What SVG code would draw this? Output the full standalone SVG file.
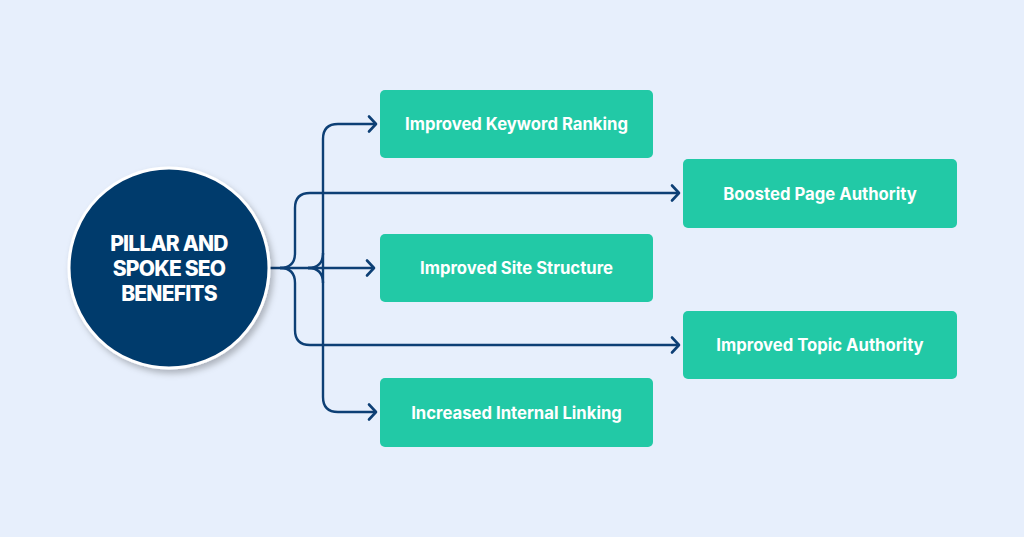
<svg xmlns="http://www.w3.org/2000/svg" width="1024" height="537" viewBox="0 0 1024 537">
  <defs>
    <marker id="arr" markerUnits="userSpaceOnUse" markerWidth="20" markerHeight="20" refX="10" refY="10" orient="auto">
      <path d="M3,2.5 L10,10 L3,17.5" fill="none" stroke="#0d3f75" stroke-width="2.6" stroke-linecap="round" stroke-linejoin="round"/>
    </marker>
    <filter id="sh" x="-20%" y="-20%" width="140%" height="140%">
      <feDropShadow dx="3" dy="4" stdDeviation="3" flood-color="#000" flood-opacity="0.25"/>
    </filter>
  </defs>
  <style>
    .box { fill: #22c9a6; }
    .lbl { fill: #ffffff; font-family: Inter, "Liberation Sans", sans-serif; font-weight: 700; font-size: 16.7px; text-anchor: middle; dominant-baseline: central; }
    .ctr { fill: #ffffff; font-family: Inter, "Liberation Sans", sans-serif; font-weight: 800; font-size: 21px; text-anchor: middle; letter-spacing: -0.8px; }
    .con { fill: none; stroke: #0d3f75; stroke-width: 2.4; }
  </style>
  <rect width="1024" height="537" fill="#e7effc"/>

  <g id="connectors">
    <path class="con" d="M270,268 L374,268" marker-end="url(#arr)"/>
    <path class="con" d="M280,268 Q295,268 295,253 L295,208 Q295,193 310,193 L679,193" marker-end="url(#arr)"/>
    <path class="con" d="M280,268 Q295,268 295,283 L295,330 Q295,345 310,345 L679,345" marker-end="url(#arr)"/>
    <path class="con" d="M308,268 Q323,268 323,253"/>
    <path class="con" d="M308,268 Q323,268 323,283"/>
    <path class="con" d="M323,268 L323,139 Q323,124 338,124 L376,124" marker-end="url(#arr)"/>
    <path class="con" d="M323,268 L323,397 Q323,412 338,412 L376,412" marker-end="url(#arr)"/>
  </g>

  <g id="center">
    <circle cx="169" cy="268" r="100" fill="#063a6c" stroke="#ffffff" stroke-width="3" filter="url(#sh)"/>
    <text class="ctr" x="169" y="251">PILLAR AND</text>
    <text class="ctr" x="169" y="276">SPOKE SEO</text>
    <text class="ctr" x="169" y="301">BENEFITS</text>
  </g>

  <g id="n1">
    <rect class="box" x="380" y="90" width="273" height="68" rx="5"/>
    <text class="lbl" x="516.5" y="124">Improved Keyword Ranking</text>
  </g>
  <g id="n2">
    <rect class="box" x="683" y="159" width="274" height="69" rx="5"/>
    <text class="lbl" x="820" y="193.5">Boosted Page Authority</text>
  </g>
  <g id="n3">
    <rect class="box" x="380" y="234" width="273" height="68" rx="5"/>
    <text class="lbl" x="516.5" y="268">Improved Site Structure</text>
  </g>
  <g id="n4">
    <rect class="box" x="683" y="311" width="274" height="68" rx="5"/>
    <text class="lbl" x="820" y="345">Improved Topic Authority</text>
  </g>
  <g id="n5">
    <rect class="box" x="380" y="378" width="273" height="69" rx="5"/>
    <text class="lbl" x="516.5" y="412.5">Increased Internal Linking</text>
  </g>
</svg>
